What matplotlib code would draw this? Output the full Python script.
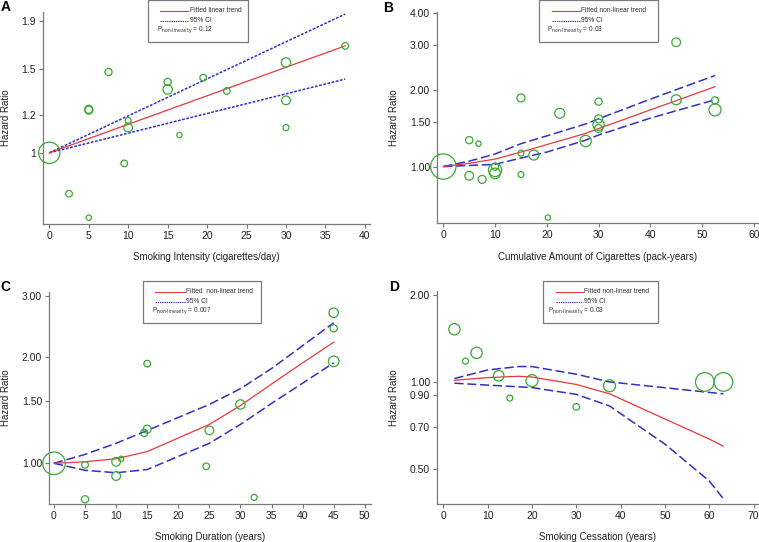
import matplotlib
matplotlib.use("Agg")
import matplotlib.pyplot as plt
from matplotlib.patches import Rectangle
from matplotlib.lines import Line2D

plt.rcParams['font.family'] = ['Liberation Sans', 'DejaVu Sans']
plt.rcParams['mathtext.default'] = 'regular'

W, H = 759, 542

# ---- panel A: smoking intensity ----
a_x = [0, 2.5, 5, 5, 5, 7.5, 9.5, 10, 10, 15, 15, 16.5, 19.5, 22.5, 30, 30, 30, 37.5]
a_hr = [1.0, 0.82, 0.73, 1.23, 1.235, 1.48, 0.95, 1.17, 1.13, 1.41, 1.36, 1.09, 1.44, 1.35, 1.55, 1.29, 1.13, 1.68]
a_w = [114, 11, 7, 16, 16, 13, 11, 9, 19, 13, 22, 7, 11, 11, 22, 19, 9, 11]
a_fx = [0, 37.5]
a_fit = [1.0, 1.68]
a_up = [1.0, 1.96]
a_lo = [1.0, 1.43]

# ---- panel B: pack-years ----
b_x = [0, 5, 6.8, 5, 7.5, 10, 10, 10, 15, 15, 15, 17.5, 20.2, 22.5, 27.5, 30, 30, 30, 30, 45, 45, 52.5, 52.5]
b_hr = [1.0, 1.27, 1.23, 0.92, 0.89, 1.00, 0.97, 0.94, 1.86, 1.13, 0.93, 1.11, 0.63, 1.62, 1.26,
        1.80, 1.54, 1.46, 1.41, 3.08, 1.83, 1.82, 1.67]
b_w = [160, 13, 7, 19, 16, 13, 44, 28, 16, 9, 9, 25, 7, 25, 32, 13, 16, 32, 16, 19, 25, 13, 36]
b_fx = [0, 5, 10, 15, 20, 27.5, 30, 40, 52.5]
b_fit = [1.0, 1.03, 1.07, 1.14, 1.22, 1.35, 1.41, 1.67, 2.06]
b_up = [1.0, 1.05, 1.12, 1.23, 1.32, 1.47, 1.54, 1.84, 2.28]
b_lo = [1.0, 1.01, 1.02, 1.08, 1.14, 1.27, 1.33, 1.55, 1.83]

# ---- panel C: duration ----
c_x = [0, 5, 5, 10, 10, 10.8, 14.5, 15, 15, 24.5, 25, 30, 32.2, 45, 45, 45]
c_hr = [1.0, 0.99, 0.79, 1.01, 0.92, 1.03, 1.22, 1.25, 1.92, 0.98, 1.24, 1.47, 0.80, 2.68, 2.42, 1.95]
c_w = [128, 11, 13, 19, 19, 7, 13, 16, 11, 11, 19, 22, 9, 22, 13, 28]
c_fx = [0, 5, 10, 15, 25, 30, 35, 40, 45]
c_fit = [1.0, 1.01, 1.03, 1.08, 1.29, 1.46, 1.68, 1.93, 2.21]
c_up = [1.0, 1.06, 1.14, 1.24, 1.47, 1.63, 1.86, 2.16, 2.51]
c_lo = [1.0, 0.955, 0.94, 0.96, 1.14, 1.29, 1.48, 1.69, 1.93]

# ---- panel D: cessation ----
d_x = [2.5, 5, 7.5, 12.5, 15, 20, 30, 37.5, 59, 63.2]
d_hr = [1.52, 1.18, 1.26, 1.05, 0.88, 1.01, 0.82, 0.97, 1.0, 1.0]
d_w = [32, 9, 32, 28, 9, 36, 11, 36, 87, 87]
d_fx = [2.5, 10, 17, 20, 30, 37.5, 50, 60, 63.2]
d_fit = [1.013, 1.035, 1.046, 1.04, 0.98, 0.91, 0.745, 0.635, 0.60]
d_up = [1.027, 1.10, 1.13, 1.13, 1.063, 1.00, 0.955, 0.92, 0.91]
d_lo = [0.99, 0.975, 0.962, 0.956, 0.906, 0.826, 0.61, 0.455, 0.395]

RED = '#e8383d'
BLUE = '#3030c8'
GREEN = '#3aa935'
GREY = '#7a7a7a'

fig = plt.figure(figsize=(W / 100, H / 100), dpi=100)


def add_axes(l, t, r, b):
    return fig.add_axes([l / W, 1 - b / H, (r - l) / W, (b - t) / H])


def panel(ax, px, phr, pw, fx, fit, up, lo, xlim, ylim, xticks, yticks, ylabs,
          xlabel, dash, box, xl_y, yl_x, letter, letter_xy):
    ax.set_yscale('log')
    ax.scatter(px, phr, s=[w * 2.07 for w in pw], facecolors='none',
               edgecolors=GREEN, linewidths=0.9, zorder=3, clip_on=False)
    ax.plot(fx, up, color=BLUE, lw=1.1, ls=dash, zorder=2)
    ax.plot(fx, lo, color=BLUE, lw=1.1, ls=dash, zorder=2)
    ax.plot(fx, fit, color=RED, lw=0.9, zorder=2)
    ax.set_xlim(*xlim)
    ax.set_ylim(*ylim)
    ax.set_xticks(xticks)
    ax.set_yticks(yticks)
    ax.set_yticklabels(ylabs)
    ax.minorticks_off()
    for s in ['top', 'right']:
        ax.spines[s].set_visible(False)
    for s in ['left', 'bottom']:
        ax.spines[s].set_color(GREY)
        ax.spines[s].set_linewidth(0.9)
    ax.tick_params(direction='out', length=3, width=0.8, color=GREY,
                   labelsize=7.5, labelcolor='#222222', pad=2)
    ax.set_xlabel(xlabel, fontsize=7, color='#222222')
    ax.set_ylabel('Hazard Ratio', fontsize=7, color='#222222')
    pos = ax.get_position()
    l, r = pos.x0 * W, pos.x1 * W
    t, b = (1 - pos.y1) * H, (1 - pos.y0) * H
    ax.xaxis.set_label_coords(0.5, -(xl_y - b) / (b - t))
    ax.xaxis.label.set_va('center')
    ax.yaxis.set_label_coords((yl_x - l) / (r - l), 0.5)
    ax.yaxis.label.set_va('center')
    fig.text(letter_xy[0] / W, 1 - letter_xy[1] / H, letter, fontsize=10,
             fontweight='bold', ha='left', va='top')

    # key box
    x0, y0, x1, lx0, lx1, tx, ptx, lab1, ptxt = box
    fig.add_artist(Rectangle((x0 / W, 1 - (y0 + 42) / H), (x1 - x0) / W, 42 / H,
                             transform=fig.transFigure, fill=False,
                             edgecolor=GREY, lw=0.9))
    rows = [y0 + 10.5, y0 + 20.5, y0 + 30]
    fig.add_artist(Line2D([lx0 / W, lx1 / W], [1 - rows[0] / H] * 2,
                          transform=fig.transFigure, color=RED, lw=0.8))
    fig.add_artist(Line2D([lx0 / W, lx1 / W], [1 - rows[1] / H] * 2,
                          transform=fig.transFigure, color=BLUE, lw=0.8,
                          ls=(0, (1.2, 0.8))))
    fig.text(tx / W, 1 - rows[0] / H, lab1, fontsize=4.8, va='center', color='#333333')
    fig.text(tx / W, 1 - rows[1] / H, '95% CI', fontsize=4.8, va='center', color='#333333')
    fig.text(ptx / W, 1 - rows[2] / H, r'P$_{\text{non-linearity}}$ = ' + ptxt, fontsize=4.8,
             va='center', color='#333333')


axA = add_axes(43, 12, 370, 224)
panel(axA, a_x, a_hr, a_w, a_fx, a_fit, a_up, a_lo, (-0.8, 40.65), (0.708, 1.98),
      range(0, 41, 5), [1, 1.2, 1.5, 1.9], ['1', '1.2', '1.5', '1.9'],
      'Smoking Intensity (cigarettes/day)', (0, (1.8, 1.0)),
      (148, 0, 248, 160, 188, 190, 157, 'Fitted linear trend', '0.12'),
      257, 6, 'A', (1, 0))

axB = add_axes(437, 12, 759, 223)
panel(axB, b_x, b_hr, b_w, b_fx, b_fit, b_up, b_lo, (-1.22, 61), (0.60, 4.05),
      range(0, 61, 10), [1, 1.5, 2, 3, 4], ['1.00', '1.50', '2.00', '3.00', '4.00'],
      'Cumulative Amount of Cigarettes (pack-years)', (0, (6, 2.4)),
      (539, 0, 658, 552, 580, 581, 547, 'Fitted non-linear trend', '0.03'),
      257, 394, 'B', (383, 1))

axC = add_axes(49, 292, 371, 504)
panel(axC, c_x, c_hr, c_w, c_fx, c_fit, c_up, c_lo, (-0.8, 51), (0.766, 3.07),
      range(0, 51, 5), [1, 1.5, 2, 3], ['1.00', '1.50', '2.00', '3.00'],
      'Smoking Duration (years)', (0, (6, 2.4)),
      (143, 281, 261, 155, 185, 186, 152, 'Fitted  non-linear trend', '0.007'),
      537, 6, 'C', (0, 280))

axD = add_axes(437, 291, 758, 504)
panel(axD, d_x, d_hr, d_w, d_fx, d_fit, d_up, d_lo, (-1.43, 71), (0.379, 2.06),
      range(0, 71, 10), [0.5, 0.7, 0.9, 1, 2], ['0.50', '0.70', '0.90', '1.00', '2.00'],
      'Smoking Cessation (years)', (0, (6, 2.4)),
      (543, 281, 658, 556, 583, 584, 548, 'Fitted non-linear trend', '0.03'),
      537, 394, 'D', (389, 280))

fig.savefig('out.png', dpi=100)
